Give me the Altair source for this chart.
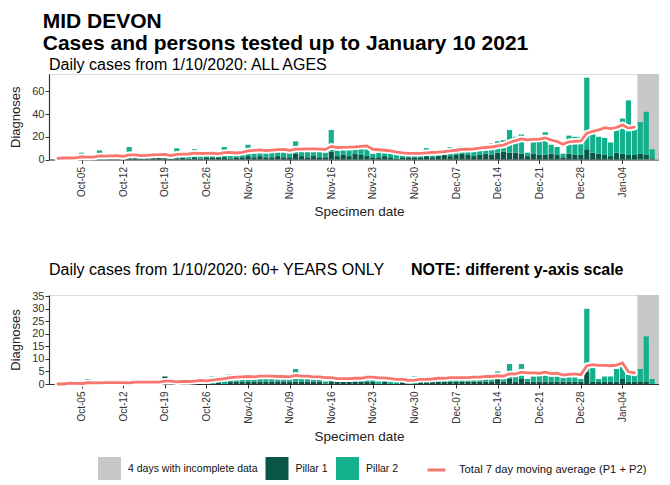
import altair as alt
import pandas as pd

# ---------------- data ----------------
start_date = "2020-10-01"
ma_last_day = "2021-01-06"          # moving average stops before the incomplete days
incomplete_first = "2021-01-07"
incomplete_last = "2021-01-10"
week_ticks = ["2020-10-05", "2020-10-12", "2020-10-19", "2020-10-26", "2020-11-02",
              "2020-11-09", "2020-11-16", "2020-11-23", "2020-11-30", "2020-12-07",
              "2020-12-14", "2020-12-21", "2020-12-28", "2021-01-04", "2021-01-11"]

# ALL AGES
p1_all = [0, 1, 0, 1, 0, 0, 1, 0, 0, 1, 1, 0, 1, 1, 1, 1, 2, 3, 1, 1, 1, 2, 1, 2, 1, 2, 2, 2, 2, 1, 2,
          2, 3, 2, 3, 2, 2, 3, 2, 2, 5, 3, 2, 3, 2, 2, 7, 3, 4, 3, 5, 4, 3, 2, 2, 3, 2, 1, 2, 2, 2,
          2, 3, 2, 3, 4, 3, 4, 5, 4, 3, 4, 5, 4, 6, 7, 6, 6, 5, 3, 5, 4, 4, 5, 4, 2, 5, 4, 4, 9, 6, 5,
          4, 3, 6, 5, 4, 4, 5, 4, 1, 0]
p2_all = [1, 1, 1, 1, 6, 1, 1, 8, 1, 1, 2, 2, 10, 1, 2, 2, 2, 2, 2, 3, 9, 2, 3, 7, 2, 2, 3, 4, 9, 4, 4,
          5, 10, 6, 6, 5, 6, 6, 6, 5, 11, 6, 6, 6, 5, 4, 19, 6, 6, 6, 6, 6, 6, 3, 4, 4, 3, 3, 3, 4, 3,
          4, 7, 5, 3, 4, 8, 5, 7, 6, 6, 7, 7, 10, 10, 10, 20, 14, 17, 3, 12, 14, 20, 8, 7, 3, 16, 16, 16, 63, 18, 15,
          15, 12, 21, 31, 48, 26, 28, 38, 8, 0]

# 60+ YEARS ONLY
p1_60 = [0, 0, 0, 0, 0, 0, 0, 0, 0, 0, 0, 0, 0, 0, 0, 0, 0, 0, 3, 0, 0, 0, 0, 0, 0, 0, 0, 1, 0, 1, 1,
         1, 1, 1, 1, 1, 1, 1, 1, 1, 1, 1, 1, 1, 1, 0, 1, 1, 1, 1, 1, 1, 1, 1, 0, 1, 0, 0, 1, 0, 0,
         1, 1, 1, 1, 1, 1, 1, 1, 1, 1, 1, 1, 1, 2, 1, 2, 1, 2, 1, 1, 1, 1, 1, 1, 1, 1, 1, 1, 5, 1, 1,
         1, 1, 1, 2, 1, 1, 1, 1, 0, 0]
p2_60 = [0, 0, 1, 0, 0, 2, 0, 0, 1, 1, 0, 0, 1, 2, 0, 1, 1, 0, 0, 1, 0, 1, 1, 2, 2, 2, 3, 1, 3, 3, 2,
         2, 2, 1, 3, 2, 3, 1, 2, 1, 5, 1, 2, 1, 1, 1, 1, 2, 1, 2, 2, 1, 3, 1, 1, 1, 1, 1, 1, 1, 3,
         2, 1, 1, 2, 1, 2, 2, 2, 1, 2, 2, 3, 2, 3, 1, 6, 2, 6, 1, 2, 3, 4, 3, 3, 2, 3, 3, 1, 25, 6, 1,
         2, 2, 5, 6, 4, 3, 5, 18, 2, 0]

title_lines = ["MID DEVON", "Cases and persons tested up to January 10 2021"]
subtitle_all = "Daily cases from 1/10/2020: ALL AGES"
subtitle_60 = "Daily cases from 1/10/2020: 60+ YEARS ONLY"
note_60 = "NOTE: different y-axis scale"

legend_labels = ["4 days with incomplete data", "Pillar 1", "Pillar 2"]
legend_colors = ["#C8C8C8", "#0A5646", "#14B08E"]
ma_label = "Total 7 day moving average (P1 + P2)"
ma_color = "#F8766D"

# ---------------- tables ----------------
FONT = "Liberation Sans"
W = 620
dates = pd.date_range(start_date, periods=len(p1_all), freq="D")


def table(p1, p2):
    df = pd.DataFrame({"date": dates, "Pillar 1": p1, "Pillar 2": p2})
    df["total"] = df["Pillar 1"] + df["Pillar 2"]
    df["start"] = df["date"] - pd.Timedelta(hours=10.5)
    df["end"] = df["date"] + pd.Timedelta(hours=10.5)
    df["complete"] = df["date"] <= pd.Timestamp(ma_last_day)
    df["series"] = ma_label
    return df


incomplete_df = pd.DataFrame({
    "start": [pd.Timestamp(incomplete_first) - pd.Timedelta(hours=12)],
    "end": [pd.Timestamp(incomplete_last) + pd.Timedelta(hours=12)],
    "kind": [legend_labels[0]],
})


def dt(s, hours=0):
    t = pd.Timestamp(s)
    return alt.DateTime(year=t.year, month=t.month, date=t.day, hours=hours)


x_scale = alt.Scale(domain=[dt("2020-09-29", 12), dt("2021-01-11", 20)], nice=False)
x_axis = alt.Axis(values=[dt(s) for s in week_ticks], format="%b-%d", labelAngle=270,
                  labelFontSize=10, labelColor="#333333", labelFont=FONT, labelPadding=3,
                  tickSize=4, tickColor="#333333", domainColor="#333333", domainWidth=1.2,
                  grid=False, labelOverlap=False, labelFlush=False, title="Specimen date",
                  titleFont=FONT, titleFontSize=13.5, titleFontWeight="normal",
                  titleColor="#222222", titlePadding=6)

fill_scale = alt.Scale(domain=legend_labels, range=legend_colors)
stroke_scale = alt.Scale(domain=[ma_label], range=[ma_color])
fill_legend = alt.Legend(title=None, orient="none", direction="horizontal",
                         legendX=49, legendY=162, symbolType="square", symbolSize=529,
                         symbolStrokeWidth=0, labelFont=FONT, labelFontSize=10.5,
                         labelColor="#111111", labelOffset=7, columnPadding=7.5, padding=0,
                         labelLimit=300)
stroke_legend = alt.Legend(title=None, orient="none", direction="horizontal",
                           legendX=377, legendY=164.5, symbolType="stroke", symbolSize=324,
                           symbolStrokeWidth=3, labelFont=FONT, labelFontSize=11.2,
                           labelColor="#111111", labelOffset=12, padding=0, labelLimit=300)


def panel(p1, p2, ymax, height, yticks, with_legend, title=None, texts=None):
    df = table(p1, p2)
    y_scale = alt.Scale(domain=[0, ymax], nice=False)
    y_axis = alt.Axis(values=yticks, labelFontSize=11, labelColor="#333333", labelFont=FONT,
                      tickSize=4, tickColor="#333333", domainColor="#333333", domainWidth=1.2,
                      grid=False, labelPadding=1, title="Diagnoses", titleFont=FONT,
                      titleFontSize=13, titleFontWeight="normal", titleColor="#222222",
                      titlePadding=9.5)
    fl = fill_legend if with_legend else None
    sl = stroke_legend if with_legend else None

    grey = alt.Chart(incomplete_df).mark_rect().encode(
        x=alt.X("start:T", scale=x_scale, axis=x_axis),
        x2="end:T",
        y=alt.value(0),
        y2=alt.value(height),
        fill=alt.Fill("kind:N", scale=fill_scale, legend=fl),
    )

    bars = alt.Chart(df).transform_fold(
        ["Pillar 1", "Pillar 2"], as_=["pillar", "n"]
    ).transform_stack(
        stack="n", groupby=["date"], as_=["y0", "y1"],
        sort=[alt.SortField("pillar", order="ascending")]
    ).mark_rect(strokeWidth=0).encode(
        x=alt.X("start:T", scale=x_scale, axis=x_axis),
        x2="end:T",
        y=alt.Y("y0:Q", scale=y_scale, axis=y_axis),
        y2="y1:Q",
        fill=alt.Fill("pillar:N", scale=fill_scale, legend=fl),
    )

    ma_base = alt.Chart(df).transform_window(
        ma="mean(total)", frame=[-6, 0], sort=[alt.SortField("date")]
    ).transform_filter("datum.complete")

    halo = ma_base.mark_line(color="white", strokeWidth=6.5, strokeCap="round").encode(
        x=alt.X("date:T", scale=x_scale, axis=x_axis),
        y=alt.Y("ma:Q", scale=y_scale, axis=y_axis),
    )
    line = ma_base.mark_line(strokeWidth=2.8, strokeCap="round").encode(
        x=alt.X("date:T", scale=x_scale, axis=x_axis),
        y=alt.Y("ma:Q", scale=y_scale, axis=y_axis),
        stroke=alt.Stroke("series:N", scale=stroke_scale, legend=sl),
    )

    layers = [grey, bars, halo, line]
    if texts is not None:
        for txt, xpos, weight in texts:
            layers.append(
                alt.Chart(pd.DataFrame({"t": [txt]})).mark_text(
                    font=FONT, fontSize=16, fontWeight=weight, align="left",
                    baseline="middle", color="black"
                ).encode(text="t:N", x=alt.value(xpos), y=alt.value(-25))
            )

    props = dict(width=W, height=height)
    if title is not None:
        props["title"] = alt.Title(title, anchor="start", frame="group", font=FONT,
                                   fontSize=16, fontWeight="normal", color="black", offset=1)
    return alt.layer(*layers).properties(**props)


top = panel(p1_all, p2_all, 75.2, 85.5, [0, 20, 40, 60], False, title=subtitle_all)
bottom = panel(p1_60, p2_60, 35.5, 89, [0, 5, 10, 15, 20, 25, 30, 35], True,
               texts=[(subtitle_60, 0, "normal"), (note_60, 362, "bold")])

chart = alt.vconcat(top, bottom, spacing=42).properties(
    title=alt.Title(title_lines, anchor="start", font=FONT, fontSize=21,
                    fontWeight="bold", color="black", lineHeight=22, offset=3, dx=34),
    padding={"left": 0, "top": 2, "right": -11, "bottom": 0},
).resolve_scale(
    y="independent", fill="independent", stroke="independent"
).configure_view(stroke=None).configure(background="white")

chart.save("out.html", embed_options={"renderer": "svg", "actions": False})
